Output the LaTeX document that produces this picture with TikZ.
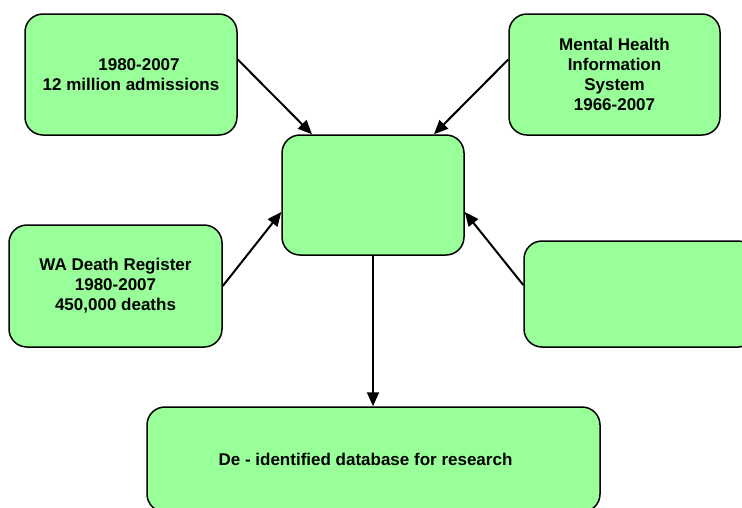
\documentclass[tikz,border=0pt]{standalone}
\usepackage{fontspec}
\setmainfont{Liberation Sans}
\usetikzlibrary{arrows.meta}

\begin{document}
\begin{tikzpicture}[x=1pt, y=-1pt,
  databox/.style={draw=black, line width=1.5pt, fill=BoxGreen, rounded corners=18pt,
    inner sep=0pt, align=center, font=\bfseries\fontsize{17}{20}\selectfont},
  feed/.style={line width=2pt, -{Triangle[length=14pt, width=12pt]}}]

% Define Box Colour
\definecolor{BoxGreen}{HTML}{99FF99}

% Page frame (boxes on the right and bottom run off the edge)
\useasboundingbox (0,0) rectangle (742,507);
\clip (0,0) rectangle (742,507);

\begin{scope}

  % Linked data sources
  \node[databox, minimum width=212pt, minimum height=121pt] (admit) at (131,74.5)
    {\hspace*{16pt}1980-2007\\12 million admissions};
  \node[databox, minimum width=211pt, minimum height=121pt] (mhis) at (614.5,74.5)
    {Mental Health\\Information\\System\\1966-2007};
  \node[databox, minimum width=213pt, minimum height=122pt] (death) at (115.5,286)
    {WA Death Register\\1980-2007\\450,000 deaths};
  \node[databox, minimum width=232pt, minimum height=106pt] (other) at (640,294) {};

  % Linkage hub
  \node[databox, minimum width=182pt, minimum height=120pt] (hub) at (373,195) {};

  % Output
  \node[databox, minimum width=453pt, minimum height=105pt] (research) at (373.5,459.5)
    {De - identified database for research\hspace*{16pt}};

\end{scope}

% Connectors into and out of the hub
\draw[feed] ([yshift=15pt]admit.east) -- ([xshift=-61pt]hub.north);
\draw[feed] ([yshift=15pt]mhis.west) -- ([xshift=61pt]hub.north);
\draw[feed] (death.east) -- ([yshift=-17pt]hub.west);
\draw[feed] ([yshift=9pt]other.west) -- ([yshift=-17pt]hub.east);
\draw[feed] (hub.south) -- (hub.south |- research.north);

\end{tikzpicture}
\end{document}
